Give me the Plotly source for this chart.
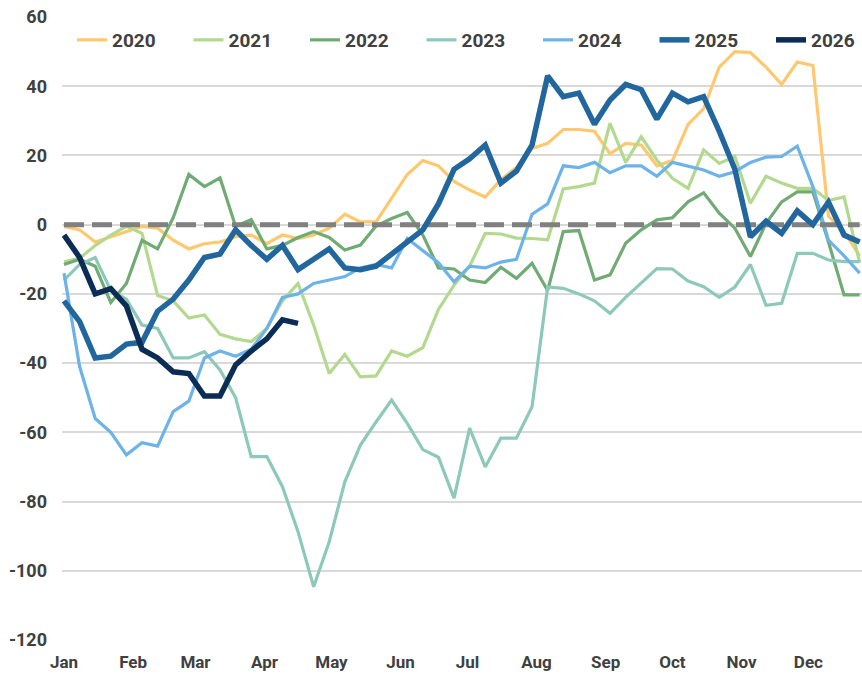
import pandas as pd
import plotly.graph_objects as go

weeks = pd.date_range("2025-01-01", periods=52, freq="7D")

s2020 = [-0.5, -1.5, -5, -3.5, -2, -0.5, -1, -4.5, -7, -5.5, -5, -3.5, -3, -5.5, -3, -4,
         -3, -1, 3, 0.8, 0.8, 7.5, 14.5, 18.5, 17, 12.5, 10, 8, 13, 16.5, 22, 23.5,
         27.5, 27.5, 27, 20.5, 23.5, 23, 17, 18.5, 29, 33.5, 45.5, 50, 49.7, 45.5,
         40.5, 47, 46, 2.5, -2, -9]
s2021 = [-10.7, -9.7, -6, -3, -0.5, -2.5, -20.5, -22, -27, -26.1, -31.7, -33, -33.8, -30,
         -22, -17, -29, -43, -37.5, -44, -43.7, -36.5, -38, -35.5, -24.5, -17.5, -12,
         -2.5, -2.7, -3.9, -4, -4.4, 10.3, 11, 12, 29.3, 18, 25.4, 18.7, 13.4, 10.5,
         21.6, 17.7, 19.7, 6.2, 14, 12, 10.5, 10.5, 7, 8, -11]
s2022 = [-11.5, -10, -12, -22.5, -17, -4.5, -7, 2, 14.5, 11, 13.5, -0.5, 1.5, -7, -6,
         -3.7, -2, -3.7, -7.3, -5.9, -0.4, 1.8, 3.5, -3, -12.5, -12.8, -16, -16.7,
         -12.3, -15.5, -11.2, -19, -2, -1.7, -16, -14.5, -5.4, -1.5, 1.4, 2, 6.6, 9.2,
         3.3, -1, -9.2, 0.4, 6.6, 9.5, 9.5, -5, -20.3, -20.3]
s2023 = [-16, -11.5, -9.5, -19, -21.5, -29, -30, -38.5, -38.5, -36.7, -42, -50, -67,
         -67, -75.7, -88.7, -104.6, -91.6, -74.3, -63.7, -57, -50.7, -57.4, -65, -67.2,
         -79, -58.8, -70, -61.7, -61.7, -52.6, -18, -18.4, -20, -22, -25.6, -21, -17,
         -12.7, -12.8, -16.3, -17.9, -21, -18, -11.5, -23.3, -22.7, -8.3, -8.3, -10.2,
         -10.7, -10.7]
s2024 = [-14, -41, -56, -60, -66.5, -63, -64, -54, -51, -38.5, -36.5, -38, -36, -30,
         -21, -20, -17, -16, -15, -12.5, -11.5, -12.5, -4, -7.5, -11, -16.5, -12,
         -12.5, -10.8, -10, 3, 6, 17, 16.5, 18, 15, 17, 17, 14, 18, 16.8, 15.8, 14,
         15.3, 18, 19.5, 19.7, 22.7, 11, -4.5, -9, -14]
s2025 = [-22, -28, -38.5, -38, -34.5, -34, -25, -21.5, -16, -9.5, -8.5, -1.5, -6, -10,
         -6, -13, -10, -7, -12.5, -13, -12, -8.5, -4.5, -1.5, 6, 16, 19, 23, 12, 15.5,
         23, 43, 37, 38, 29, 36, 40.5, 39, 30.5, 38, 35.5, 37, 27, 16, -3.5, 1, -2.5,
         4, 0, 6.5, -3, -5]
s2026 = [-3, -9.5, -20, -18.5, -23.5, -36, -38.5, -42.5, -43, -49.5, -49.5, -40.5,
         -36.5, -33, -27.5, -28.5]

series_names = ["2020", "2021", "2022", "2023", "2024", "2025", "2026"]
series_values = [s2020, s2021, s2022, s2023, s2024, s2025, s2026]
colors = ["#FFC86E", "#B3D98F", "#70AB74", "#8DC9B8", "#6DB3E8", "#21669C", "#0B2D55"]
widths = [3.2, 3.2, 3.2, 3.2, 3.2, 5.5, 5.5]

ytick_vals = [60, 40, 20, 0, -20, -40, -60, -80, -100, -120]
ytick_text = ["60", "40", "20", "0", "-20", "-40", "-60", "-80", "-100", "-120"]

FONT = "Roboto"
TXT = "#404040"
W, H = 862, 674

fig = go.Figure()
for k in range(5):
    fig.add_trace(go.Scatter(x=weeks[:len(series_values[k])], y=series_values[k],
                             name=series_names[k], mode="lines",
                             line=dict(color=colors[k], width=widths[k])))
# zero reference line
fig.add_trace(go.Scatter(x=[weeks[0], weeks[-1]], y=[0, 0], mode="lines",
                         showlegend=False, hoverinfo="skip",
                         line=dict(color="#808080", width=5, dash="20px,8px")))
for k in range(5, 7):
    fig.add_trace(go.Scatter(x=weeks[:len(series_values[k])], y=series_values[k],
                             name=series_names[k], mode="lines",
                             line=dict(color=colors[k], width=widths[k])))

fig.update_layout(
    width=W, height=H,
    margin=dict(l=0, r=0, t=17, b=34, autoexpand=False),
    paper_bgcolor="white", plot_bgcolor="white",
    font=dict(family=FONT, size=18, color=TXT),
    legend=dict(orientation="h", x=72 / W, xanchor="left", y=(640 - 40) / 623, yanchor="middle",
                bgcolor="rgba(0,0,0,0)",
                font=dict(family=FONT, size=19, color=TXT, weight="bold"),
                itemwidth=30, entrywidth=71.5, entrywidthmode="pixels", tracegroupgap=0),
    showlegend=True,
)
fig.update_xaxes(
    type="date", domain=[62 / W, 1], automargin=False,
    range=["2024-12-31 02:24", "2025-12-25 01:12"],
    tick0="2025-01-01", dtick="M1", tickformat="%b",
    showgrid=False, zeroline=False, showline=False,
    ticks="", ticklabelstandoff=10,
    tickfont=dict(family=FONT, size=17, color=TXT, weight="bold"),
)
fig.update_yaxes(
    range=[-120, 60], automargin=False,
    tickmode="array", tickvals=ytick_vals, ticktext=ytick_text,
    showgrid=True, gridcolor="#D9D9D9", gridwidth=2,
    zeroline=False, showline=False, ticks="", ticklabelstandoff=14,
    tickfont=dict(family=FONT, size=18, color=TXT, weight="bold"),
)

fig.write_html("out.html", config={"displayModeBar": False},
               post_script="document.body.style.margin='0px';")
